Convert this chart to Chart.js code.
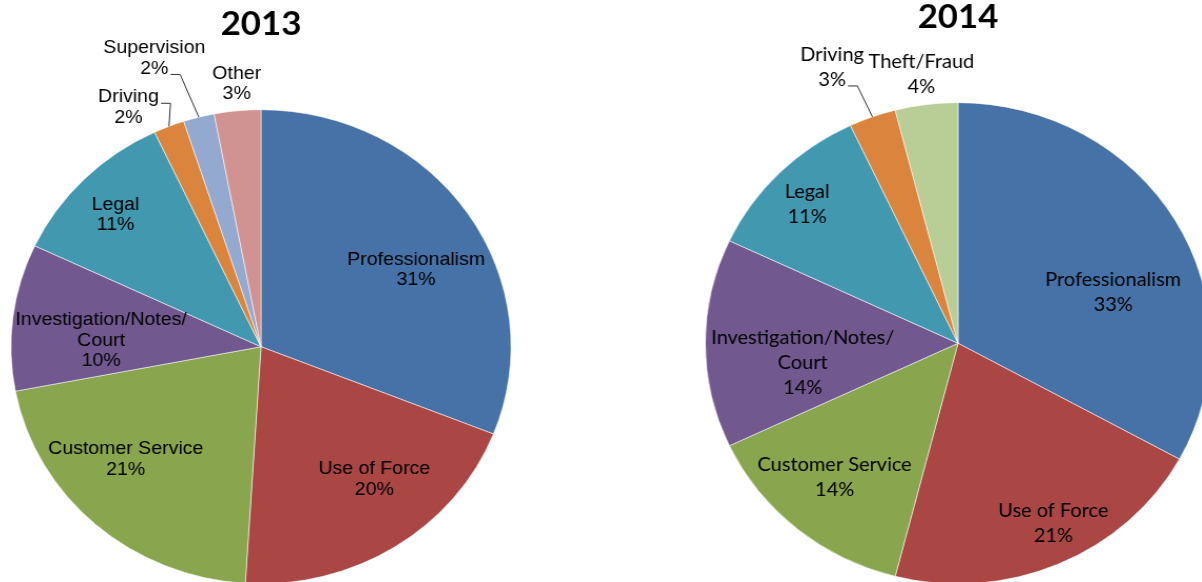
<!DOCTYPE html>
<html>
<head>
<meta charset="utf-8">
<script src="https://cdn.jsdelivr.net/npm/chart.js@4/dist/chart.umd.min.js"></script>
<style>
  html, body { margin: 0; padding: 0; background: #fff; }
  body { width: 1202px; height: 582px; overflow: hidden; position: relative; }
  .pie { position: absolute; top: 0; width: 600px; height: 653px; transform-origin: 300px 0; }
  #wrap2013 { left: -39.5px; transform: scaleX(1.055); }
  #wrap2014 { left: 657.5px; transform: scaleX(1.05); }
</style>
</head>
<body>
<div class="pie" id="wrap2013"><canvas id="pie2013"></canvas></div>
<div class="pie" id="wrap2014"><canvas id="pie2014"></canvas></div>
<script>
// Complaint categories and shares (%) per year
const labels2013 = ['Professionalism', 'Use of Force', 'Customer Service', 'Investigation/Notes/Court', 'Legal', 'Driving', 'Supervision', 'Other'];
const values2013 = [31, 20, 21, 10, 11, 2, 2, 3];
const colors2013 = ['#4672A8', '#AA4644', '#89A54E', '#71588F', '#4198AF', '#DB843D', '#93A9CF', '#D19392'];

const labels2014 = ['Professionalism', 'Use of Force', 'Customer Service', 'Investigation/Notes/Court', 'Legal', 'Driving', 'Theft/Fraud'];
const values2014 = [33, 21, 14, 14, 11, 3, 4];
const colors2014 = ['#4672A8', '#AA4644', '#89A54E', '#71588F', '#4198AF', '#DB843D', '#B9CD96'];

// split long category names onto two lines
function wrapLabel(name) {
    const i = name.indexOf('Notes/');
    if (i < 0) return [name];
    return [name.slice(0, i + 6), name.slice(i + 6)];
}

// draws "Name / NN%" labels, placed along each slice's mid angle
const sliceLabels = {
    id: 'sliceLabels',
    afterDatasetsDraw(chart, args, opts) {
        const ctx = chart.ctx;
        const meta = chart.getDatasetMeta(0);
        const ds = chart.data.datasets[0];
        ctx.save();
        ctx.font = opts.font;
        ctx.fillStyle = '#000';
        ctx.textAlign = 'center';
        ctx.textBaseline = 'middle';
        meta.data.forEach((arc, i) => {
            const p = arc.getProps(['x', 'y', 'startAngle', 'endAngle', 'outerRadius'], true);
            const mid = (p.startAngle + p.endAngle) / 2;
            const [frac, nudge] = opts.place[i];
            const a = mid + nudge * Math.PI / 180;
            const lx = p.x + Math.cos(a) * p.outerRadius * frac;
            const ly = p.y + Math.sin(a) * p.outerRadius * frac;
            const lines = wrapLabel(chart.data.labels[i]).concat([ds.data[i] + '%']);
            const top = ly - (lines.length - 1) * opts.lineHeight / 2;
            lines.forEach((t, k) => ctx.fillText(t, lx, top + k * opts.lineHeight));

            const leader = opts.leaders[i];
            if (leader !== undefined) {
                const w = ctx.measureText(lines[leader]).width;
                const sx = lx + w / 2 + 2;
                const sy = top + leader * opts.lineHeight + opts.baseShift;
                const ex = p.x + Math.cos(mid) * p.outerRadius;
                const ey = p.y + Math.sin(mid) * p.outerRadius;
                ctx.beginPath();
                ctx.strokeStyle = '#333';
                ctx.lineWidth = 1;
                ctx.moveTo(sx, sy);
                ctx.lineTo(sx + 9, sy);
                ctx.lineTo(ex, ey);
                ctx.stroke();
            }
        });
        ctx.restore();
    }
};

function makePie(id, title, labels, values, colors, radius, titlePad, labelOpts) {
    return new Chart(document.getElementById(id), {
        type: 'pie',
        data: {
            labels: labels,
            datasets: [{
                data: values,
                backgroundColor: colors,
                borderColor: 'rgba(255,255,255,0.55)',
                borderWidth: 1
            }]
        },
        options: {
            responsive: true,
            maintainAspectRatio: false,
            animation: false,
            radius: radius,
            layout: { padding: 0 },
            events: [],
            plugins: {
                legend: { display: false },
                tooltip: { enabled: false },
                title: {
                    display: true,
                    text: title,
                    color: '#000',
                    font: { family: 'Lato', size: 33, weight: 'bold', lineHeight: 1 },
                    padding: { top: titlePad, bottom: 0 }
                },
                sliceLabels: labelOpts
            }
        },
        plugins: [sliceLabels]
    });
}

// Chart 1 - 2013 ======================================================
makePie('pie2013', '2013', labels2013, values2013, colors2013, 237, 7.5, {
    font: '18.5px "Liberation Sans", Arial, sans-serif',
    lineHeight: 20.5,
    baseShift: 6,
    place: [[0.70, 6.6], [0.72, -6.6], [0.72, 7.3], [0.64, -4.9], [0.805, -1.3], [1.14, -6.1], [1.29, -4.9], [1.114, 0.4]],
    leaders: { 5: 0, 6: 1 }
});

// Chart 2 - 2014 ======================================================
makePie('pie2014', '2014', labels2014, values2014, colors2014, 240.6, 0.5, {
    font: '19px Lato, sans-serif',
    lineHeight: 25,
    baseShift: 6,
    place: [[0.65, 11.5], [0.84, -3.3], [0.74, 1.7], [0.62, -7.6], [0.83, -1], [1.25, -3.7], [1.125, -0.2]],
    leaders: { 5: 1 }
});
</script>
</body>
</html>
